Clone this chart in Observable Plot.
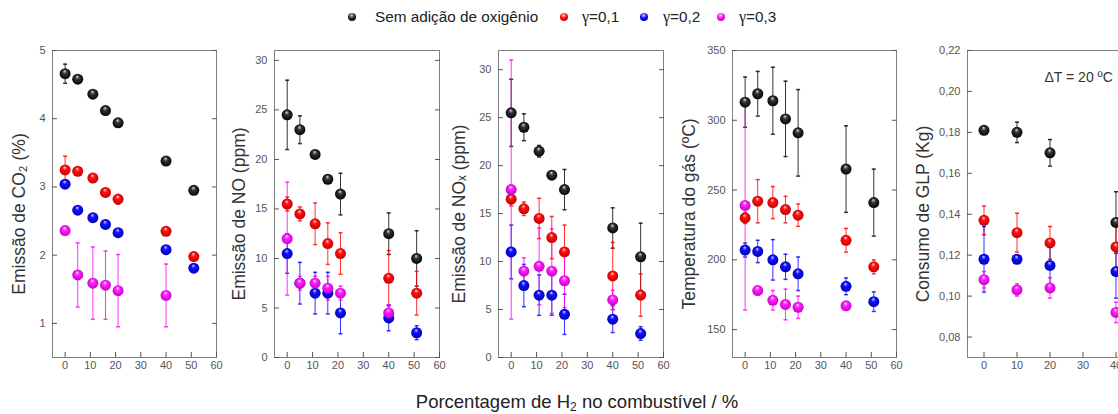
<!DOCTYPE html>
<html><head><meta charset="utf-8">
<script src="https://cdn.jsdelivr.net/npm/d3@7"></script>
<script src="https://cdn.jsdelivr.net/npm/@observablehq/plot@0.6"></script>
<style>
html,body{margin:0;padding:0;background:#fff;overflow:hidden;}
#wrap{position:relative;width:1118px;height:414px;overflow:hidden;font-family:"Liberation Sans",Arial,sans-serif;}
.leg{position:absolute;top:8px;font-size:15.3px;color:#222;white-space:nowrap;line-height:18px}
.leg .g{font-family:"Liberation Serif","DejaVu Serif",serif;font-size:16px}
.ldot{position:absolute;width:8px;height:8px;border-radius:50%;top:13px}
#xtitle{position:absolute;top:391px;left:0;width:1154px;text-align:center;font-size:18.5px;color:#222;line-height:22px}
#xtitle sub{font-size:12px;vertical-align:-3px;line-height:0}
</style></head>
<body>
<svg width="0" height="0" style="position:absolute">
  <defs>
    <radialGradient id="sph0" cx="0.5" cy="0.5" r="0.55" fx="0.45" fy="0.25">
      <stop offset="0" stop-color="#d8d8d8"/><stop offset="0.35" stop-color="#333"/><stop offset="1" stop-color="#000"/>
    </radialGradient>
    <radialGradient id="sph1" cx="0.5" cy="0.5" r="0.55" fx="0.45" fy="0.25">
      <stop offset="0" stop-color="#ffd0d0"/><stop offset="0.35" stop-color="#ff1010"/><stop offset="1" stop-color="#c00000"/>
    </radialGradient>
    <radialGradient id="sph2" cx="0.5" cy="0.5" r="0.55" fx="0.45" fy="0.25">
      <stop offset="0" stop-color="#d0d0ff"/><stop offset="0.35" stop-color="#1010ff"/><stop offset="1" stop-color="#0000b0"/>
    </radialGradient>
    <radialGradient id="sph3" cx="0.5" cy="0.5" r="0.55" fx="0.45" fy="0.25">
      <stop offset="0" stop-color="#ffd8ff"/><stop offset="0.35" stop-color="#ff20ff"/><stop offset="1" stop-color="#c000c0"/>
    </radialGradient>
  </defs>
</svg>
<div id="wrap"></div>
<script>
// ---------- data ----------
const xs = [0, 5, 11, 16, 21, 40, 51];
const xsGLP = [0, 10, 20, 40];
const seriesNames = ["Sem adição de oxigênio", "γ=0,1", "γ=0,2", "γ=0,3"];
const seriesColors = ["#000000", "#ff0000", "#0000ff", "#ff00ff"];
const xTicks = [0, 10, 20, 30, 40, 50, 60];
const xTicksGLP = [0, 10, 20, 30, 40];

const co2Sem = [4.66, 4.58, 4.36, 4.12, 3.94, 3.38, 2.95];
const co2SemErr = [0.14, 0.03, 0.03, 0.03, 0.03, 0.03, 0.03];
const co2G1 = [3.25, 3.23, 3.13, 2.92, 2.82, 2.35, 1.98];
const co2G1Err = [0.20, 0.03, 0.04, 0.04, 0.07, 0.03, 0.03];
const co2G2 = [3.04, 2.66, 2.55, 2.45, 2.33, 2.08, 1.81];
const co2G2Err = [0.03, 0.03, 0.03, 0.03, 0.03, 0.05, 0.03];
const co2G3 = [2.36, 1.71, 1.59, 1.56, 1.48, 1.41, null];
const co2G3Err = [0.04, 0.47, 0.53, 0.50, 0.53, 0.46, null];

const noSem = [24.5, 23.0, 20.5, 18.0, 16.5, 12.5, 10.0];
const noSemErr = [3.5, 1.4, 0.4, 0.2, 2.1, 2.1, 2.8];
const noG1 = [15.5, 14.5, 13.5, 11.5, 10.5, 8.0, 6.5];
const noG1Err = [0.7, 0.7, 2.1, 2.1, 2.1, 2.8, 2.2];
const noG2 = [10.5, 7.5, 6.5, 6.5, 4.5, 4.0, 2.5];
const noG2Err = [2.0, 2.1, 2.1, 2.1, 2.1, 1.3, 0.7];
const noG3 = [12.0, 7.5, 7.5, 7.0, 6.5, 4.5, null];
const noG3Err = [5.7, 0.7, 0.7, 1.2, 0.7, 0.8, null];

const noxSem = [25.5, 24.0, 21.5, 19.0, 17.5, 13.5, 10.5];
const noxSemErr = [3.5, 1.4, 0.6, 0.2, 2.1, 2.1, 3.5];
const noxG1 = [16.5, 15.5, 14.5, 12.5, 11.0, 8.5, 6.5];
const noxG1Err = [0.7, 0.7, 2.1, 2.2, 2.8, 3.5, 2.2];
const noxG2 = [11.0, 7.5, 6.5, 6.5, 4.5, 4.0, 2.5];
const noxG2Err = [2.8, 2.2, 2.1, 2.1, 2.1, 1.4, 0.7];
const noxG3 = [17.5, 9.0, 9.5, 9.0, 8.0, 6.0, null];
const noxG3Err = [13.5, 1.4, 4.0, 4.4, 2.8, 1.0, null];

const tempSem = [313, 319, 314, 301, 291, 265, 241];
const tempSemErr = [18, 16, 24, 27, 31, 31, 24];
const tempG1 = [230, 242, 241, 236, 232, 214, 195];
const tempG1Err = [4, 15.5, 11.5, 9.5, 8, 8.5, 5];
const tempG2 = [207, 206, 200, 195, 190, 181, 170];
const tempG2Err = [5, 8, 14.5, 9, 12, 6, 7];
const tempG3 = [239, 178, 171, 168, 166, 167, null];
const tempG3Err = [75, 2, 7, 11, 8, 2, null];

const glpSem = [0.181, 0.180, 0.170, 0.136];
const glpSemErr = [0.0012, 0.005, 0.0065, 0.015];
const glpG1 = [0.137, 0.131, 0.126, 0.124];
const glpG1Err = [0.007, 0.0095, 0.008, 0.011];
const glpG2 = [0.118, 0.118, 0.115, 0.112];
const glpG2Err = [0.016, 0.002, 0.011, 0.013];
const glpG3 = [0.108, 0.103, 0.104, 0.092];
const glpG3Err = [0.004, 0.003, 0.005, 0.005];

const yLabels = ["Emissão de CO₂ (%)", "Emissão de NO (ppm)", "Emissão de NOₓ (ppm)", "Temperatura do gás (ºC)", "Consumo de GLP (Kg)"];
const xLabel = "Porcentagem de H<sub>2</sub> no combustível / %";
const note = "ΔT = 20 ºC";

// ---------- drawing ----------
const capSym = {draw(ctx, size) { const r = Math.sqrt(size / Math.PI); ctx.moveTo(-r, 0); ctx.lineTo(r, 0); }};
const wrap = document.getElementById("wrap");

function makePanel(cfg) {
  const mL = 60, mR = 12, mT = 50, mB = 57;
  const marks = [];
  const rowsAll = cfg.series.map(s => cfg.x.map((x, i) => ({x, y: s[0][i], e: s[1][i]})).filter(d => d.y != null));
  rowsAll.forEach((rows, k) => {
    const c = seriesColors[k];
    marks.push(Plot.ruleX(rows, {x: "x", y1: d => d.y - d.e, y2: d => d.y + d.e, stroke: c, strokeOpacity: 0.8, strokeWidth: 1}));
    marks.push(Plot.dot(rows, {x: "x", y: d => d.y - d.e, symbol: capSym, r: 2, stroke: c, fill: "none", strokeOpacity: 0.8}));
    marks.push(Plot.dot(rows, {x: "x", y: d => d.y + d.e, symbol: capSym, r: 2, stroke: c, fill: "none", strokeOpacity: 0.8}));
  });
  rowsAll.forEach((rows, k) => {
    marks.push(Plot.dot(rows, {x: "x", y: "y", r: 5.5, fill: `url(#sph${k})`, stroke: "none"}));
  });
  marks.push(Plot.frame({stroke: "#808080"}));
  marks.push(Plot.axisX({ticks: cfg.xTicks, tickSize: -5, tickPadding: 9, label: null, color: "#555", tickFormat: d => String(d)}));
  marks.push(Plot.axisY({ticks: cfg.yTicks, tickSize: -5, tickPadding: 12, label: null, color: "#555", tickFormat: cfg.yFmt}));
  marks.push(Plot.axisY({anchor: "right", ticks: cfg.yTicks, tickSize: -5, label: null, color: "#555", tickFormat: () => ""}));
  marks.push(Plot.text([cfg.title], {text: d => d, frameAnchor: "left", rotate: -90, dx: cfg.titleDx, dy: 10, fontSize: 17.5, fill: "#333", textAnchor: "middle"}));
  if (cfg.note) marks.push(Plot.text([cfg.note], {text: d => d, frameAnchor: "top-left", dx: 77, dy: 22, fontSize: 14, fill: "#333", textAnchor: "start"}));
  const svg = Plot.plot({
    width: mL + cfg.w + mR, height: 414,
    marginLeft: mL, marginRight: mR, marginTop: mT, marginBottom: mB,
    x: {domain: cfg.xDomain},
    y: {domain: cfg.yDomain},
    style: {fontFamily: "Liberation Sans, Arial, sans-serif", fontSize: "11px"},
    marks
  });
  svg.style.position = "absolute";
  svg.style.top = "0px";
  svg.style.left = (cfg.left - mL) + "px";
  svg.style.background = "transparent";
  svg.style.overflow = "visible";
  svg.style.maxWidth = "none";
  wrap.appendChild(svg);
}

const fmtInt = d => String(d);
makePanel({left: 52, w: 164, x: xs, xDomain: [-5, 60], xTicks, yDomain: [0.5, 5], yTicks: [1, 2, 3, 4, 5], yFmt: fmtInt,
  title: yLabels[0], titleDx: -33,
  series: [[co2Sem, co2SemErr], [co2G1, co2G1Err], [co2G2, co2G2Err], [co2G3, co2G3Err]]});
makePanel({left: 274, w: 165, x: xs, xDomain: [-5, 60], xTicks, yDomain: [0, 31], yTicks: [0, 5, 10, 15, 20, 25, 30], yFmt: fmtInt,
  title: yLabels[1], titleDx: -35,
  series: [[noSem, noSemErr], [noG1, noG1Err], [noG2, noG2Err], [noG3, noG3Err]]});
makePanel({left: 498, w: 165, x: xs, xDomain: [-5, 60], xTicks, yDomain: [0, 32], yTicks: [0, 5, 10, 15, 20, 25, 30], yFmt: fmtInt,
  title: yLabels[2], titleDx: -39,
  series: [[noxSem, noxSemErr], [noxG1, noxG1Err], [noxG2, noxG2Err], [noxG3, noxG3Err]]});
makePanel({left: 732, w: 164, x: xs, xDomain: [-5, 60], xTicks, yDomain: [130, 350], yTicks: [150, 200, 250, 300, 350], yFmt: fmtInt,
  title: yLabels[3], titleDx: -43,
  series: [[tempSem, tempSemErr], [tempG1, tempG1Err], [tempG2, tempG2Err], [tempG3, tempG3Err]]});
makePanel({left: 967, w: 165, x: xsGLP, xDomain: [-5, 45], xTicks: xTicksGLP, yDomain: [0.07, 0.22],
  yTicks: [0.08, 0.10, 0.12, 0.14, 0.16, 0.18, 0.20, 0.22], yFmt: d => d.toFixed(2).replace(".", ","),
  title: yLabels[4], titleDx: -44, note,
  series: [[glpSem, glpSemErr], [glpG1, glpG1Err], [glpG2, glpG2Err], [glpG3, glpG3Err]]});

// legend
const legDotX = [348, 560, 640, 717];
const legTextX = [375, 582, 663, 739];
const legGrad = ["radial-gradient(circle at 45% 30%, #ccc, #222 45%, #000)",
  "radial-gradient(circle at 45% 30%, #fcc, #f00 45%, #b00)",
  "radial-gradient(circle at 45% 30%, #ccf, #00f 45%, #00a)",
  "radial-gradient(circle at 45% 30%, #fcf, #f0f 45%, #b0b)"];
seriesNames.forEach((name, k) => {
  const d = document.createElement("span");
  d.className = "ldot"; d.style.left = legDotX[k] + "px"; d.style.background = legGrad[k];
  wrap.appendChild(d);
  const t = document.createElement("span");
  t.className = "leg"; t.style.left = legTextX[k] + "px";
  if (name.startsWith("γ")) {
    const g = document.createElement("span"); g.className = "g"; g.textContent = "γ";
    t.appendChild(g); t.appendChild(document.createTextNode(name.slice(1)));
  } else t.textContent = name;
  wrap.appendChild(t);
});
const xt = document.createElement("div");
xt.id = "xtitle"; xt.innerHTML = xLabel;
wrap.appendChild(xt);
</script>
</body></html>
